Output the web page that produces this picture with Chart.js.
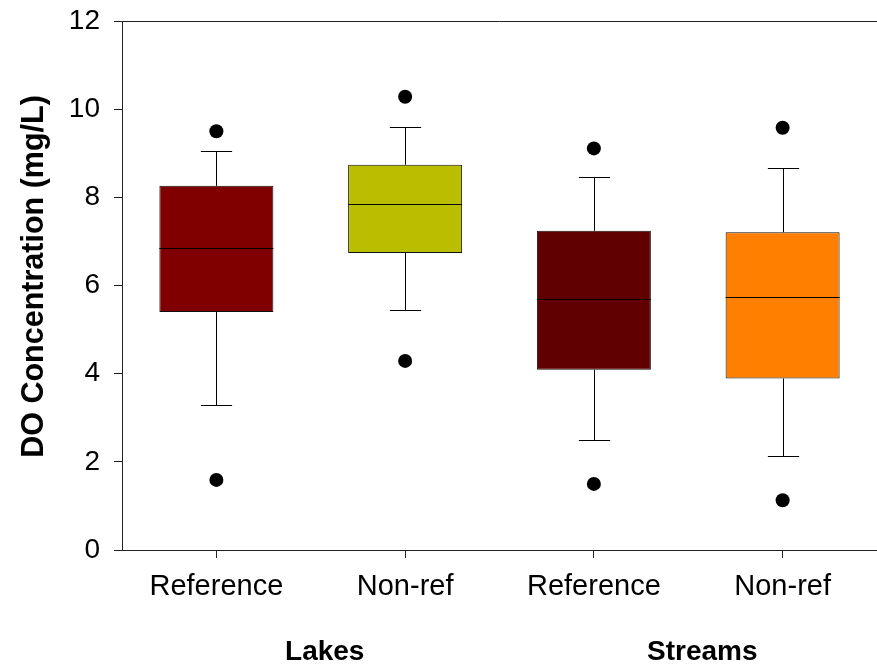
<!DOCTYPE html>
<html>
<head>
<meta charset="utf-8">
<title>DO Concentration</title>
<script src="https://cdn.jsdelivr.net/npm/chart.js@4/dist/chart.umd.min.js"></script>
<style>
  html, body { margin: 0; padding: 0; background: #fff; overflow: hidden; }
  #wrap { width: 877px; height: 664px; }
</style>
</head>
<body>
<div id="wrap"><canvas id="chart" width="877" height="664"></canvas></div>
<script>
// Dissolved oxygen summaries by site class
const groups = ['Lakes', 'Streams'];
const categories = ['Reference', 'Non-ref', 'Reference', 'Non-ref'];
const q1 = [5.40, 6.74, 4.09, 3.89];
const median = [6.84, 7.84, 5.69, 5.74];
const q3 = [8.26, 8.74, 7.24, 7.21];
const whiskerLow = [3.28, 5.44, 2.50, 2.13];
const whiskerHigh = [9.06, 9.60, 8.45, 8.67];
const outlierHigh = [9.50, 10.28, 9.11, 9.58];
const outlierLow = [1.59, 4.29, 1.50, 1.13];
const boxColors = ['#800000', '#B9BE00', '#600000', '#FF8000'];
const yTicks = [0, 2, 4, 6, 8, 10, 12];
const yTitle = 'DO Concentration (mg/L)';

const FONT = '"Liberation Sans", Arial, Helvetica, sans-serif';

// Whiskers, caps, medians and the top frame line, placed through the chart's scales
const boxDecor = {
  id: 'boxDecor',
  afterDatasetsDraw(chart) {
    const { ctx, chartArea, scales: { x, y } } = chart;
    const meta = chart.getDatasetMeta(0);
    const px = v => Math.round(v) + 0.5;
    ctx.save();
    ctx.strokeStyle = '#000';
    ctx.lineWidth = 1;
    meta.data.forEach((bar, i) => {
      const cx = px(bar.x);
      const half = bar.width / 2;
      const capHalf = bar.width * 0.137;
      const yQ1 = y.getPixelForValue(q1[i]);
      const yQ3 = y.getPixelForValue(q3[i]);
      const yLo = px(y.getPixelForValue(whiskerLow[i]));
      const yHi = px(y.getPixelForValue(whiskerHigh[i]));
      const yMed = px(y.getPixelForValue(median[i]));
      ctx.beginPath();
      // upper whisker and cap
      ctx.moveTo(cx, yQ3); ctx.lineTo(cx, yHi);
      ctx.moveTo(cx - capHalf, yHi); ctx.lineTo(cx + capHalf, yHi);
      // lower whisker and cap
      ctx.moveTo(cx, yQ1); ctx.lineTo(cx, yLo);
      ctx.moveTo(cx - capHalf, yLo); ctx.lineTo(cx + capHalf, yLo);
      // median
      ctx.moveTo(bar.x - half, yMed); ctx.lineTo(bar.x + half, yMed);
      ctx.stroke();
    });
    // top frame line
    ctx.strokeStyle = '#222';
    ctx.beginPath();
    const yTop = px(chartArea.top);
    ctx.moveTo(chartArea.left, yTop);
    ctx.lineTo(chartArea.right, yTop);
    ctx.stroke();
    ctx.restore();
  },
  afterDraw(chart) {
    const { ctx, chartArea, scales: { x } } = chart;
    ctx.save();
    ctx.fillStyle = '#000';
    // group names under each pair of categories
    ctx.font = 'bold 28px ' + FONT;
    ctx.textAlign = 'center';
    ctx.textBaseline = 'alphabetic';
    groups.forEach((g, gi) => {
      const a = x.getPixelForValue(gi * 2);
      const b = x.getPixelForValue(gi * 2 + 1);
      ctx.fillText(g, (a + b) / 2 + 14, 660);
    });
    // vertical axis title
    ctx.font = 'bold 30.5px ' + FONT;
    ctx.textBaseline = 'middle';
    ctx.translate(35, (chartArea.top + chartArea.bottom) / 2 - 9);
    ctx.rotate(-Math.PI / 2);
    ctx.fillText(yTitle, 0, 0);
    ctx.restore();
  }
};

new Chart(document.getElementById('chart'), {
  type: 'bar',
  data: {
    labels: categories,
    datasets: [
      {
        type: 'bar',
        label: 'IQR',
        data: q1.map((v, i) => [v, q3[i]]),
        backgroundColor: boxColors,
        borderColor: '#111',
        borderWidth: 1,
        borderSkipped: false,
        categoryPercentage: 1,
        barPercentage: 0.604,
        order: 2
      },
      {
        type: 'line',
        label: 'High outliers',
        data: outlierHigh,
        showLine: false,
        pointRadius: 7,
        pointBackgroundColor: '#000',
        pointBorderColor: '#000',
        pointBorderWidth: 0,
        order: 1
      },
      {
        type: 'line',
        label: 'Low outliers',
        data: outlierLow,
        showLine: false,
        pointRadius: 7,
        pointBackgroundColor: '#000',
        pointBorderColor: '#000',
        pointBorderWidth: 0,
        order: 1
      }
    ]
  },
  options: {
    responsive: false,
    animation: false,
    devicePixelRatio: 1,
    layout: { autoPadding: false, padding: { top: 21, right: 0, bottom: 0, left: 0 } },
    plugins: {
      legend: { display: false },
      tooltip: { enabled: false },
      title: { display: false }
    },
    scales: {
      x: {
        type: 'category',
        offset: true,
        grid: {
          offset: false,
          drawOnChartArea: false,
          drawTicks: true,
          tickLength: 8,
          color: '#222'
        },
        border: { display: true, color: '#222', width: 1 },
        ticks: {
          color: '#000',
          font: { family: FONT, size: 29 },
          padding: 12,
          maxRotation: 0,
          autoSkip: false
        },
        afterFit(scale) {
          scale.height = 114;
          scale.paddingLeft = 0;
          scale.paddingRight = 0;
        }
      },
      y: {
        min: 0,
        max: 12,
        afterBuildTicks(scale) { scale.ticks = yTicks.map(v => ({ value: v })); },
        grid: {
          drawOnChartArea: false,
          drawTicks: true,
          tickLength: 8,
          color: '#222'
        },
        border: { display: true, color: '#222', width: 1 },
        ticks: {
          color: '#000',
          font: { family: FONT, size: 28 },
          padding: 14
        },
        title: { display: false },
        afterFit(scale) {
          scale.width = 122;
          scale.paddingTop = 0;
          scale.paddingBottom = 0;
        }
      }
    }
  },
  plugins: [boxDecor]
});
</script>
</body>
</html>
